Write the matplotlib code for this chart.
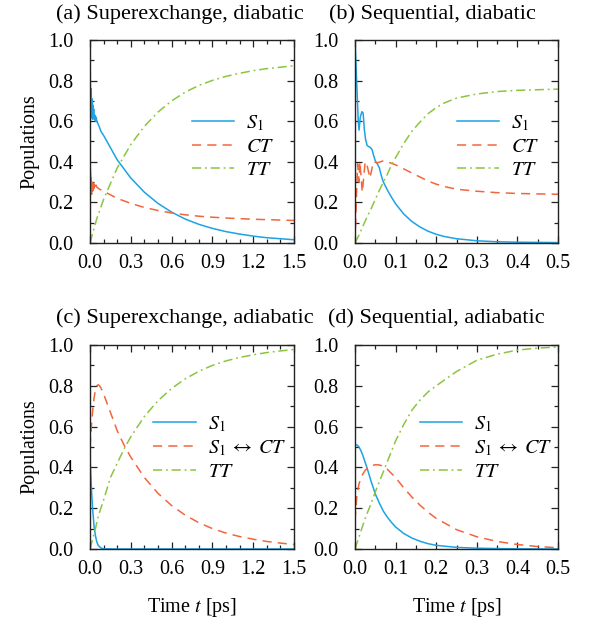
import matplotlib
matplotlib.use("Agg")
import matplotlib.pyplot as plt
from matplotlib.ticker import MultipleLocator

plt.rcParams["font.family"] = ["Liberation Serif", "DejaVu Serif"]
plt.rcParams["mathtext.fontset"] = "stix"
plt.rcParams["font.size"] = 14.5

BLUE = "#1ba3e3"
RED = "#f2663c"
GREEN = "#8cc540"

# (a) superexchange, diabatic
t_a = [0, 0.003, 0.006, 0.009, 0.012, 0.015, 0.018, 0.021, 0.024, 0.027, 0.03,
       0.035, 0.04, 0.045, 0.05, 0.06, 0.07, 0.08, 0.1, 0.2, 0.3, 0.4, 0.5, 0.6,
       0.7, 0.8, 0.9, 1.0, 1.1, 1.2, 1.3, 1.4, 1.5]
s1_a = [1.0, 0.75, 0.62, 0.76, 0.63, 0.71, 0.61, 0.68, 0.62, 0.66, 0.61,
        0.63, 0.60, 0.62, 0.60, 0.585, 0.57, 0.55, 0.53, 0.41, 0.32, 0.25, 0.195, 0.152,
        0.118, 0.092, 0.072, 0.056, 0.044, 0.034, 0.026, 0.021, 0.016]
ct_a = [0.0, 0.37, 0.25, 0.32, 0.24, 0.30, 0.25, 0.31, 0.26, 0.30, 0.27,
        0.29, 0.27, 0.285, 0.275, 0.27, 0.265, 0.262, 0.255, 0.22, 0.195, 0.175, 0.16, 0.148,
        0.139, 0.132, 0.127, 0.123, 0.12, 0.117, 0.115, 0.113, 0.111]
t_a_tt = [0, 0.02, 0.05, 0.1, 0.2, 0.3, 0.4, 0.5, 0.6, 0.7, 0.8, 0.9, 1.0, 1.1,
          1.2, 1.3, 1.4, 1.5]
tt_a = [0.0, 0.05, 0.12, 0.215, 0.37, 0.485, 0.575, 0.645, 0.70, 0.743, 0.776,
        0.801, 0.821, 0.836, 0.849, 0.859, 0.866, 0.873]

# (b) sequential, diabatic
t_b_s1 = [0, 0.004, 0.008, 0.010, 0.013, 0.017, 0.020, 0.023, 0.026, 0.030, 0.034,
          0.038, 0.042, 0.046, 0.050, 0.055, 0.060, 0.065, 0.070, 0.08, 0.09, 0.1,
          0.12, 0.14, 0.16, 0.18, 0.2, 0.22, 0.25, 0.3, 0.35, 0.4, 0.45, 0.5]
s1_b = [1.0, 0.8, 0.6, 0.556, 0.62, 0.647, 0.64, 0.56, 0.51, 0.48, 0.475,
        0.47, 0.46, 0.43, 0.405, 0.39, 0.37, 0.33, 0.30, 0.26, 0.225, 0.193,
        0.143, 0.106, 0.079, 0.058, 0.043, 0.032, 0.021, 0.011, 0.006, 0.004, 0.003, 0.002]
t_b_ct = [0, 0.003, 0.0065, 0.010, 0.012, 0.018, 0.025, 0.030, 0.037, 0.045, 0.055,
          0.07, 0.08, 0.1, 0.12, 0.14, 0.16, 0.18, 0.2, 0.22, 0.25, 0.3, 0.35, 0.4,
          0.45, 0.5]
ct_b = [0.0, 0.2, 0.39, 0.30, 0.40, 0.25, 0.40, 0.38, 0.32, 0.40, 0.395,
        0.405, 0.40, 0.385, 0.365, 0.345, 0.325, 0.305, 0.29, 0.278, 0.265, 0.255, 0.248, 0.244,
        0.242, 0.24]
t_b_tt = [0, 0.01, 0.02, 0.03, 0.04, 0.05, 0.06, 0.07, 0.08, 0.09, 0.1, 0.12, 0.14,
          0.16, 0.18, 0.2, 0.22, 0.25, 0.3, 0.35, 0.4, 0.45, 0.5]
tt_b = [0.0, 0.04, 0.085, 0.13, 0.17, 0.215, 0.26, 0.30, 0.34, 0.385, 0.42, 0.49, 0.55,
        0.596, 0.637, 0.667, 0.69, 0.714, 0.734, 0.746, 0.752, 0.755, 0.758]

# (c) superexchange, adiabatic
t_c_s1 = [0, 0.01, 0.02, 0.03, 0.04, 0.05, 0.06, 0.08, 0.1, 0.2, 0.5, 1.0, 1.5]
s1_c = [0.45, 0.3, 0.19, 0.11, 0.065, 0.035, 0.018, 0.005, 0.001, 0.0, 0.0, 0.0, 0.0]
t_c = [0, 0.01, 0.02, 0.03, 0.04, 0.05, 0.06, 0.07, 0.08, 0.1, 0.15, 0.2, 0.25,
       0.3, 0.4, 0.5, 0.6, 0.7, 0.8, 0.9, 1.0, 1.1, 1.2, 1.3, 1.4, 1.5]
ct_c = [0.5, 0.6, 0.68, 0.74, 0.78, 0.80, 0.805, 0.80, 0.79, 0.76, 0.67, 0.58, 0.51,
        0.45, 0.35, 0.273, 0.213, 0.166, 0.129, 0.1, 0.078, 0.061, 0.048, 0.037, 0.029, 0.022]
t_c_tt = [0, 0.02, 0.04, 0.06, 0.08, 0.1, 0.15, 0.2, 0.25, 0.3, 0.4, 0.5, 0.6, 0.7,
          0.8, 0.9, 1.0, 1.1, 1.2, 1.3, 1.4, 1.5]
tt_c = [0.0, 0.05, 0.1, 0.16, 0.2, 0.24, 0.35, 0.42, 0.49, 0.55, 0.65, 0.727, 0.787,
        0.834, 0.871, 0.9, 0.922, 0.939, 0.952, 0.963, 0.971, 0.978]

# (d) sequential, adiabatic
t_d = [0, 0.005, 0.01, 0.015, 0.02, 0.025, 0.03, 0.04, 0.05, 0.06, 0.07, 0.08, 0.09,
       0.1, 0.12, 0.14, 0.16, 0.18, 0.2, 0.25, 0.3, 0.35, 0.4, 0.45, 0.5]
s1_d = [0.51, 0.51, 0.5, 0.48, 0.455, 0.425, 0.395, 0.33, 0.27, 0.225, 0.185, 0.155, 0.13,
        0.108, 0.076, 0.054, 0.038, 0.026, 0.018, 0.008, 0.004, 0.002, 0.001, 0.0005, 0.0]
ct_d = [0.14, 0.27, 0.32, 0.35, 0.37, 0.385, 0.395, 0.408, 0.413, 0.412, 0.405, 0.39, 0.37,
        0.35, 0.30, 0.255, 0.215, 0.18, 0.15, 0.095, 0.06, 0.037, 0.022, 0.012, 0.006]
tt_d = [0.0, 0.03, 0.06, 0.09, 0.12, 0.15, 0.175, 0.225, 0.28, 0.33, 0.38, 0.43, 0.48,
        0.53, 0.61, 0.68, 0.73, 0.77, 0.80, 0.87, 0.925, 0.955, 0.975, 0.985, 0.99]

titles = ["(a) Superexchange, diabatic", "(b) Sequential, diabatic",
          "(c) Superexchange, adiabatic", "(d) Sequential, adiabatic"]
ct_labels = [r"$CT$", r"$CT$", r"$S_1\;\leftrightarrow\;CT$", r"$S_1\;\leftrightarrow\;CT$"]

fig = plt.figure(figsize=(5.95, 6.23), dpi=100)
W, H = 595.0, 623.0
boxes = [(90, 40, 204, 203), (355, 40, 203, 203), (90, 345, 204, 204), (355, 345, 203, 204)]
axes = [fig.add_axes([x / W, 1 - (y + h) / H, w / W, h / H]) for x, y, w, h in boxes]
# title anchors (left edge, vertical centre) in pixels
title_xy = [(56, 14), (329, 14), (56, 318), (328, 318)]

curves = [
    ((t_a, s1_a), (t_a, ct_a), (t_a_tt, tt_a)),
    ((t_b_s1, s1_b), (t_b_ct, ct_b), (t_b_tt, tt_b)),
    ((t_c_s1, s1_c), (t_c, ct_c), (t_c_tt, tt_c)),
    ((t_d, s1_d), (t_d, ct_d), (t_d, tt_d)),
]
legend_pos = [(0.50, 0.473), (0.50, 0.473), (0.31, 0.495), (0.32, 0.495)]

for i, ax in enumerate(axes):
    (ts, s1), (tc, ct), (tt_t, tt) = curves[i]
    ax.plot(ts, s1, color=BLUE, lw=1.1, label=r"$S_1$")
    ax.plot(tc, ct, color=RED, lw=1.1, dashes=(6, 4), label=ct_labels[i])
    ax.plot(tt_t, tt, color=GREEN, lw=1.1, dashes=(6, 2.5, 1.2, 2.5), label=r"$TT$")

    xmax = 1.5 if i % 2 == 0 else 0.5
    ax.set_xlim(0, xmax)
    ax.set_ylim(0, 1)
    if xmax == 1.5:
        ax.xaxis.set_major_locator(MultipleLocator(0.3))
        ax.xaxis.set_minor_locator(MultipleLocator(0.1))
    else:
        ax.xaxis.set_major_locator(MultipleLocator(0.1))
        ax.xaxis.set_minor_locator(MultipleLocator(0.05))
    ax.yaxis.set_major_locator(MultipleLocator(0.2))
    ax.yaxis.set_minor_locator(MultipleLocator(0.1))
    ax.xaxis.set_major_formatter(plt.FuncFormatter(lambda v, p: f"{v:.1f}"))
    ax.yaxis.set_major_formatter(plt.FuncFormatter(lambda v, p: f"{v:.1f}"))
    ax.tick_params(which="both", direction="in", top=True, right=True, color="#222222", width=0.9)
    ax.tick_params(which="major", length=5)
    ax.tick_params(which="minor", length=2.8)
    ax.tick_params(axis="x", pad=8)
    ax.tick_params(axis="y", pad=12)
    for s in ax.spines.values():
        s.set_linewidth(1.0)
        s.set_color("#222222")

    tx, ty = title_xy[i]
    fig.text(tx / W, 1 - ty / H, titles[i], ha="left", va="center", fontsize=16)
    if i % 2 == 0:
        ax.set_ylabel("Populations", labelpad=6)
    if i >= 2:
        ax.set_xlabel(r"Time $t$ [ps]", labelpad=12)

    ax.legend(loc="center left", bbox_to_anchor=legend_pos[i], frameon=False,
              handlelength=2.1, handletextpad=0.6, labelspacing=0.22,
              borderpad=0, borderaxespad=0, fontsize=14.5)

fig.savefig("out.png", dpi=100)
